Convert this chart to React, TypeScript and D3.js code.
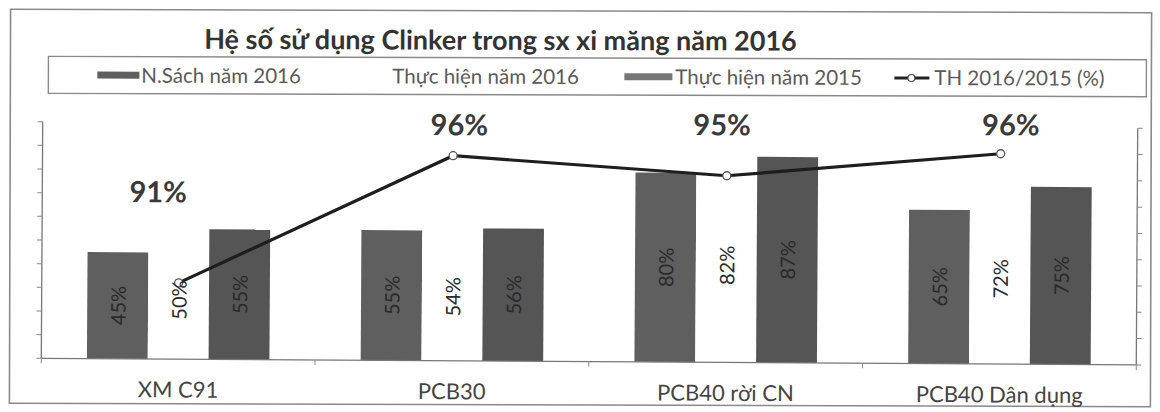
import React from 'react';
import * as d3 from 'd3';

const title = 'Hệ số sử dụng Clinker trong sx xi măng năm 2016';
const categories = ['XM C91', 'PCB30', 'PCB40 rời CN', 'PCB40 Dân dụng'];
const seriesNames = ['N.Sách năm 2016', 'Thực hiện năm 2016', 'Thực hiện năm 2015'];
const nsach2016 = [0.45, 0.55, 0.8, 0.65];
const th2016 = [0.5, 0.54, 0.82, 0.72];
const th2015 = [0.55, 0.56, 0.87, 0.75];
const lineName = 'TH 2016/2015 (%)';
const ratio = [0.909, 0.958, 0.951, 0.96];
const leftTicks = [0, 0.1, 0.2, 0.3, 0.4, 0.5, 0.6, 0.7, 0.8, 0.9, 1.0];
const rightTicks = [0.88, 0.89, 0.9, 0.91, 0.92, 0.93, 0.94, 0.95, 0.96, 0.97];

const W = 1160;
const H = 412;
const FONT = 'Lato, "Open Sans", sans-serif';

export default function App() {
  const plotL = 42;
  const plotR = 1137;
  const plotT = 125;
  const plotB = 361.6;

  const x = d3.scaleBand<string>().domain(categories).range([plotL, plotR]).paddingInner(0).paddingOuter(0);
  const bw = x.bandwidth();
  const groupW = (bw * 3) / 4.5;
  const inner = d3
    .scaleBand<number>()
    .domain([0, 1, 2])
    .range([(bw - groupW) / 2, (bw + groupW) / 2])
    .padding(0);
  const yL = d3.scaleLinear().domain([0, 1]).range([plotB, plotT]);
  const yR = d3.scaleLinear().domain([0.88, 0.97]).range([plotB, plotT]);

  const series = [nsach2016, th2016, th2015];
  const fills = ['#5f5f5f', '#ffffff', '#555555'];
  const pct = d3.format('.0%');

  const line = d3
    .line<number>()
    .x((_, i) => (x(categories[i]) as number) + bw / 2)
    .y((d) => yR(d));

  // manual nudges of the line's data labels (as placed in the source chart)
  const labelNudge: [number, number][] = [
    [-21, -92],
    [6, -32],
    [-5, -52],
    [10, -30],
  ];

  const plotAngle = (Math.atan(0.006) * 180) / Math.PI;
  const headAngle = (Math.atan(0.003) * 180) / Math.PI;
  const legendFont = 20.5;

  return (
    <svg
      width={W}
      height={H}
      style={{ position: 'absolute', left: 0, top: 0, background: '#fff' }}
      fontFamily={FONT}
    >
      <rect x={0} y={0} width={W} height={H} fill="#fff" />
      <g transform={`rotate(${headAngle},580,206)`}>
        <rect x={10} y={11} width={1141} height={394} fill="none" stroke="#8a8a8a" strokeWidth={1.6} />
        <text x={500} y={50} textAnchor="middle" fontSize={27} fontWeight={700} fill="#333">
          {title}
        </text>
        <rect x={48} y={58} width={1098} height={37} fill="none" stroke="#8a8a8a" strokeWidth={1.4} />
        {/* legend */}
        <rect x={97} y={73} width={42} height={7} fill={fills[0]} />
        <text x={141} y={84} fontSize={legendFont} fill="#5a5a5a">{seriesNames[0]}</text>
        <text x={392} y={84} fontSize={legendFont} fill="#5a5a5a">{seriesNames[1]}</text>
        <rect x={624} y={73} width={48} height={7} fill="#777" />
        <text x={675} y={84} fontSize={legendFont} fill="#5a5a5a">{seriesNames[2]}</text>
        <line x1={894} x2={929} y1={77} y2={77} stroke="#222" strokeWidth={3} />
        <circle cx={911} cy={77} r={3.5} fill="#fff" stroke="#444" strokeWidth={1.2} />
        <text x={934} y={84} fontSize={legendFont} fill="#5a5a5a">{lineName}</text>
      </g>

      <g transform={`rotate(${plotAngle},590,243)`}>
        {/* bars */}
        {categories.map((c, ci) =>
          series.map((s, si) => (
            <rect
              key={c + si}
              x={(x(c) as number) + (inner(si) as number)}
              y={yL(s[ci])}
              width={inner.bandwidth()}
              height={plotB - yL(s[ci])}
              fill={fills[si]}
            />
          ))
        )}
        {/* left axis */}
        <line x1={plotL} x2={plotL} y1={plotT} y2={plotB} stroke="#777" strokeWidth={1.3} />
        {leftTicks.map((t) => (
          <line key={'l' + t} x1={plotL - 5} x2={plotL} y1={yL(t)} y2={yL(t)} stroke="#888" strokeWidth={1} />
        ))}
        {/* right axis */}
        <line x1={plotR} x2={plotR} y1={plotT} y2={plotB} stroke="#777" strokeWidth={1.3} />
        {rightTicks.map((t) => (
          <line key={'r' + t} x1={plotR} x2={plotR + 5} y1={yR(t)} y2={yR(t)} stroke="#888" strokeWidth={1} />
        ))}
        {/* x axis */}
        <line x1={plotL} x2={plotR} y1={plotB} y2={plotB} stroke="#777" strokeWidth={1.3} />
        {categories.map((c, i) => (
          <line key={'xt' + i} x1={x(c) as number} x2={x(c) as number} y1={plotB} y2={plotB + 5} stroke="#888" />
        ))}
        <line x1={plotR} x2={plotR} y1={plotB} y2={plotB + 5} stroke="#888" />
        {/* line series */}
        <path d={line(ratio) as string} fill="none" stroke="#1e1e1e" strokeWidth={3.2} />
        {ratio.map((r, i) => (
          <circle
            key={'m' + i}
            cx={(x(categories[i]) as number) + bw / 2}
            cy={yR(r)}
            r={4}
            fill="#fff"
            stroke="#555"
            strokeWidth={1.3}
          />
        ))}
        {/* bar labels */}
        {categories.map((c, ci) =>
          series.map((s, si) => {
            const cx = (x(c) as number) + (inner(si) as number) + inner.bandwidth() / 2;
            const cy = (yL(s[ci]) + plotB) / 2;
            return (
              <text
                key={'bl' + c + si}
                transform={`translate(${cx},${cy}) rotate(-90)`}
                textAnchor="middle"
                dominantBaseline="central"
                fontSize={20}
                fill="#2a2a2a"
              >
                {pct(s[ci])}
              </text>
            );
          })
        )}
        {/* line labels */}
        {ratio.map((r, i) => (
          <text
            key={'ll' + i}
            x={(x(categories[i]) as number) + bw / 2 + labelNudge[i][0]}
            y={yR(r) + labelNudge[i][1]}
            textAnchor="middle"
            dominantBaseline="central"
            fontSize={29}
            fontWeight={700}
            fill="#3a3a3a"
          >
            {pct(r)}
          </text>
        ))}
        {/* category labels */}
        {categories.map((c) => (
          <text
            key={'cl' + c}
            x={(x(c) as number) + bw / 2}
            y={400}
            textAnchor="middle"
            fontSize={22}
            fill="#444"
          >
            {c}
          </text>
        ))}
      </g>
    </svg>
  );
}
